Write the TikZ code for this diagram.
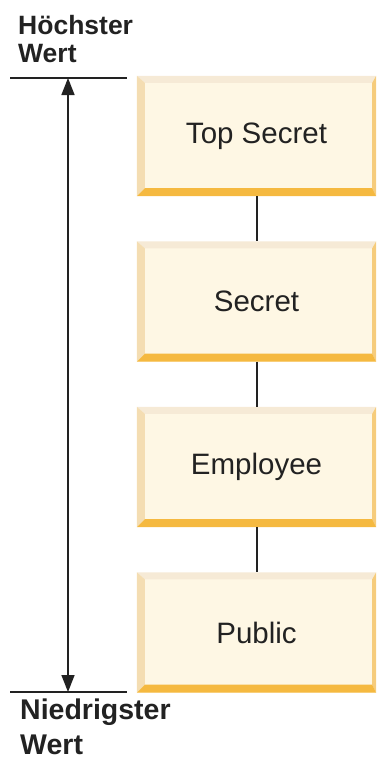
\documentclass[tikz,border=0pt]{standalone}
\usepackage{fontspec}
\setmainfont{Liberation Sans}
\usetikzlibrary{calc,arrows.meta}
\definecolor{face}{HTML}{FEF7E4}
\definecolor{bevtop}{HTML}{F6EAD6}
\definecolor{bevleft}{HTML}{F4DDB2}
\definecolor{bevright}{HTML}{F6CC7C}
\definecolor{bevbottom}{HTML}{F5B940}
\definecolor{ink}{HTML}{222222}
\tikzset{
  levelbox/.style={minimum width=239pt, minimum height=120pt, inner sep=0pt,
    fill=face, text=ink, font=\fontsize{29.5}{32}\selectfont},
  endlabel/.style={anchor=north west, inner sep=0pt, align=left, text=ink,
    font=\fontsize{26.5}{28}\selectfont\bfseries},
  rule/.style={line width=1.5pt, ink},
}
% box with bevelled edges: name, y, text
\newcommand{\levelbox}[3]{%
  \node[levelbox] (#1) at (256.5,#2) {#3};
  \fill[bevtop] (#1.north west) -- (#1.north east) -- ($(#1.north east)+(-4,7)$) -- ($(#1.north west)+(8,7)$) -- cycle;
  \fill[bevleft] (#1.north west) -- ($(#1.north west)+(8,7)$) -- ($(#1.south west)+(8,-8)$) -- (#1.south west) -- cycle;
  \fill[bevright] (#1.north east) -- ($(#1.north east)+(-4,7)$) -- ($(#1.south east)+(-4,-8)$) -- (#1.south east) -- cycle;
  \fill[bevbottom] (#1.south west) -- ($(#1.south west)+(8,-8)$) -- ($(#1.south east)+(-4,-8)$) -- (#1.south east) -- cycle;
}

\begin{document}
\begin{tikzpicture}[x=1pt, y=-1pt]
	\useasboundingbox (0,0) rectangle (377,761);
	
	%%%%% boxes %%%%%
	\levelbox{topsecret}{136}{Top Secret}
	\levelbox{secret}{301.5}{Secret}
	\levelbox{employee}{467}{Employee}
	\levelbox{public}{632.5}{Public}
	
	\draw[rule, line width=2pt] (topsecret.south) -- (secret.north);
	\draw[rule, line width=2pt] (secret.south) -- (employee.north);
	\draw[rule, line width=2pt] (employee.south) -- (public.north);
	
	%%%%% scale %%%%%
	\coordinate (hi) at (68,78);
	\coordinate (lo) at (68,692);
	\draw[rule] (10,78) -- (127,78);
	\draw[rule] (10,692) -- (127,692);
	\draw[rule, {Triangle[length=17pt,width=13pt]}-{Triangle[length=17pt,width=13pt]}] (hi) -- (lo);
	
	\node[endlabel] (highest) at (18,15) {Höchster\\Wert};
	\node[endlabel, font=\fontsize{28.5}{35}\selectfont\bfseries] (lowest) at (20,699) {Niedrigster\\Wert};
	
\end{tikzpicture}
\end{document}
